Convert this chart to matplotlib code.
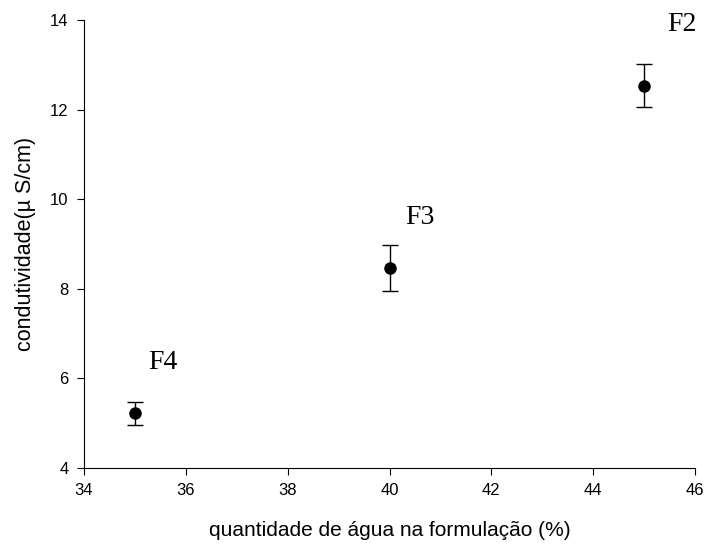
import matplotlib
matplotlib.use("Agg")
import matplotlib.pyplot as plt

# water content (%) vs conductivity
agua = [35, 40, 45]
condut = [5.22, 8.46, 12.53]
erro = [0.25, 0.51, 0.48]
nomes = ["F4", "F3", "F2"]
pos_nomes = [(35.55, 6.35), (40.6, 9.6), (45.75, 13.9)]

plt.rcParams["font.family"] = ["Liberation Sans", "DejaVu Sans"]

fig = plt.figure(figsize=(7.18, 5.44), dpi=100)
ax = fig.add_axes([0.117, 0.1397, 0.851, 0.8233])

ax.errorbar(agua, condut, yerr=erro, fmt="o", color="black", ms=8,
            capsize=6, elinewidth=1, capthick=1)

for nome, (x, y) in zip(nomes, pos_nomes):
    ax.text(x, y, nome, family=["Liberation Serif", "DejaVu Serif"],
            fontsize=20, ha="center", va="center")

ax.set_xlim(34, 46)
ax.set_ylim(4, 14)
ax.set_xticks(range(34, 47, 2))
ax.set_yticks(range(4, 15, 2))
ax.spines["top"].set_visible(False)
ax.spines["right"].set_visible(False)
ax.tick_params(direction="out", length=5, labelsize=12, pad=6)
ax.set_xlabel("quantidade de água na formulação (%)", fontsize=15, labelpad=16)
ax.set_ylabel("condutividade(µ S/cm)", fontsize=15.5, labelpad=10)

fig.savefig("out.png", dpi=100)
